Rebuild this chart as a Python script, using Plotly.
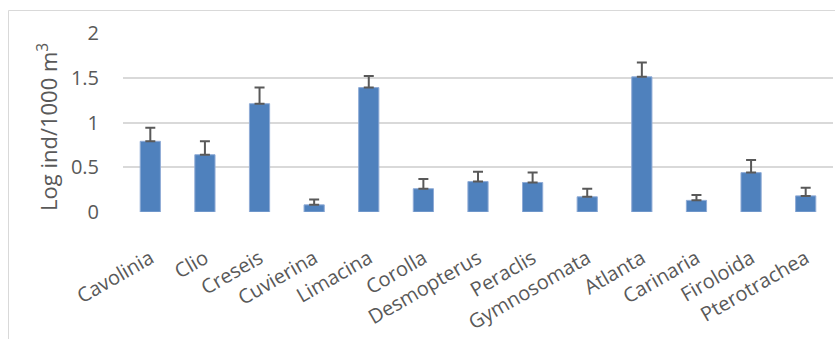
import plotly.graph_objects as go

# Pteropod / heteropod genera and their mean log abundance (+ standard error)
genera = ["Cavolinia", "Clio", "Creseis", "Cuvierina", "Limacina", "Corolla",
          "Desmopterus", "Peraclis", "Gymnosomata", "Atlanta", "Carinaria",
          "Firoloida", "Pterotrachea"]
log_abundance = [0.79, 0.64, 1.21, 0.08, 1.39, 0.26, 0.34, 0.33, 0.17, 1.51, 0.13, 0.44, 0.18]
std_error = [0.15, 0.15, 0.18, 0.06, 0.13, 0.11, 0.11, 0.11, 0.09, 0.16, 0.06, 0.14, 0.09]
y_ticks = [0, 0.5, 1, 1.5, 2]
y_tick_labels = ["0", "0.5", "1", "1.5", "2"]

W, H = 835, 339
ML, MR, MT, MB = 123, 2, 33, 127
PW, PH = W - ML - MR, H - MT - MB

TEXT = "#595959"
FONT = "Open Sans"

fig = go.Figure(
    go.Bar(
        x=genera,
        y=log_abundance,
        marker=dict(color="#4f81bd", line=dict(color="#8fabd6", width=1)),
        error_y=dict(type="data", array=std_error,
                     arrayminus=[0] * len(std_error), symmetric=False,
                     color="#595959", thickness=2, width=5),
        hoverinfo="x+y",
    )
)


def px_to_paper_x(px):
    return (px - ML) / PW


def px_to_paper_y(py):
    return (MT + PH - py) / PH


fig.update_layout(
    width=W, height=H,
    margin=dict(l=ML, r=MR, t=MT, b=MB),
    paper_bgcolor="white", plot_bgcolor="white",
    bargap=0.63,
    showlegend=False,
    font=dict(family=FONT, size=20, color=TEXT),
    xaxis=dict(
        tickangle=-30,
        tickfont=dict(family=FONT, size=20, color=TEXT),
        showgrid=False, zeroline=False, showline=False,
        ticks="outside", ticklen=26, tickcolor="rgba(0,0,0,0)",
    ),
    yaxis=dict(
        range=[0, 2],
        tickvals=y_ticks, ticktext=y_tick_labels,
        tickfont=dict(family=FONT, size=20, color=TEXT),
        showgrid=True, gridcolor="#d9d9d9", gridwidth=1.5,
        zeroline=False, showline=False,
        ticks="outside", ticklen=19, tickcolor="rgba(0,0,0,0)",
    ),
    annotations=[dict(
        text="Log ind/1000 m<sup>3</sup>",
        textangle=-90,
        xref="paper", yref="paper",
        x=px_to_paper_x(47), y=px_to_paper_y(127),
        xanchor="center", yanchor="middle",
        showarrow=False,
        font=dict(family=FONT, size=22, color=TEXT),
    )],
    shapes=[dict(
        type="rect", xref="paper", yref="paper",
        x0=px_to_paper_x(8.5), x1=px_to_paper_x(W + 20),
        y0=px_to_paper_y(H + 20), y1=px_to_paper_y(10.5),
        line=dict(color="#d9d9d9", width=1),
        fillcolor="rgba(0,0,0,0)", layer="below",
    )],
)

fig.write_html("out.html")
